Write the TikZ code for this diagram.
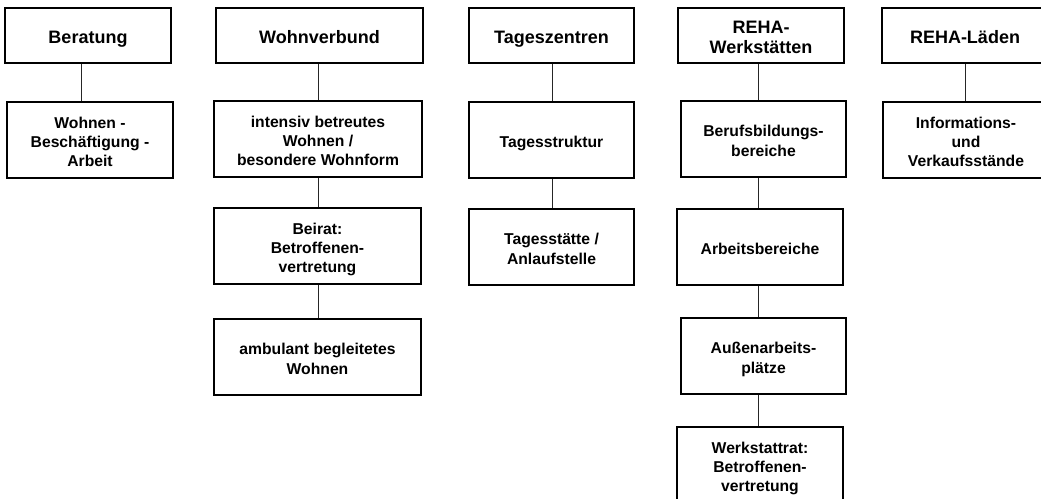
\documentclass[tikz,border=0pt]{standalone}
\usepackage{fontspec}
\setmainfont{Liberation Sans}
\newcommand{\mt}[1]{\raisebox{-3.5pt}[\height][\depth]{\begin{tabular}{@{}c@{}}#1\end{tabular}}}
\begin{document}
\begin{tikzpicture}[x=1pt,y=-1pt,
  box/.style={draw=black, line width=2pt, rectangle, inner sep=0pt, align=center},
  title/.style={box, minimum height=55pt, font=\fontsize{18}{20}\selectfont\bfseries},
  sub/.style={box, minimum height=76pt, font=\fontsize{15.7}{19.3}\selectfont\bfseries},
  conn/.style={draw=black!85, line width=1.3pt}]
\useasboundingbox (0,0) rectangle (1041,498);
\clip (0,0) rectangle (1041,498);
% column line positions
\coordinate (c1) at (81.5,0);
\coordinate (c2) at (318.5,0);
\coordinate (c3) at (552.5,0);
\coordinate (c4) at (758.5,0);
\coordinate (c5) at (965.5,0);
% column 1
\node[title, minimum width=166pt] (b1) at (88,35.5) {\mt{Beratung}};
\node[sub, minimum width=166pt] (b2) at (90,140) {\mt{Wohnen -\\Beschäftigung -\\Arbeit}};
% column 2
\node[title, minimum width=207pt] (w1) at (319.5,35.5) {\mt{Wohnverbund}};
\node[sub, minimum width=208pt] (w2) at (318,139) {\mt{intensiv betreutes\\Wohnen /\\besondere Wohnform}};
\node[sub, minimum width=207pt] (w3) at (317.5,246) {\mt{Beirat:\\Betroffenen-\\vertretung}};
\node[sub, minimum width=207pt] (w4) at (317.5,357) {\mt{ambulant begleitetes\\Wohnen}};
% column 3
\node[title, minimum width=165pt] (t1) at (551.5,35.5) {\mt{Tageszentren}};
\node[sub, minimum width=165pt] (t2) at (551.5,140) {\mt{Tagesstruktur}};
\node[sub, minimum width=165pt] (t3) at (551.5,247) {\mt{Tagesstätte /\\Anlaufstelle}};
% column 4
\node[title, minimum width=166pt] (r1) at (761,35.5) {\mt{REHA-\\Werkstätten}};
\node[sub, minimum width=165pt] (r2) at (763.5,139) {\mt{Berufsbildungs-\\bereiche}};
\node[sub, minimum width=166pt] (r3) at (760,247) {\mt{Arbeitsbereiche}};
\node[sub, minimum width=165pt] (r4) at (763.5,356) {\mt{Außenarbeits-\\plätze}};
\node[sub, minimum width=166pt] (r5) at (760,465) {\mt{Werkstattrat:\\Betroffenen-\\vertretung}};
% column 5
\node[title, minimum width=166pt] (l1) at (965,35.5) {\mt{REHA-Läden}};
\node[sub, minimum width=166pt] (l2) at (966,140) {\mt{Informations-\\und\\Verkaufsstände}};
% connectors
\draw[conn] (b1.south -| c1) -- (b2.north -| c1);
\draw[conn] (w1.south -| c2) -- (w2.north -| c2);
\draw[conn] (w2.south -| c2) -- (w3.north -| c2);
\draw[conn] (w3.south -| c2) -- (w4.north -| c2);
\draw[conn] (t1.south -| c3) -- (t2.north -| c3);
\draw[conn] (t2.south -| c3) -- (t3.north -| c3);
\draw[conn] (r1.south -| c4) -- (r2.north -| c4);
\draw[conn] (r2.south -| c4) -- (r3.north -| c4);
\draw[conn] (r3.south -| c4) -- (r4.north -| c4);
\draw[conn] (r4.south -| c4) -- (r5.north -| c4);
\draw[conn] (l1.south -| c5) -- (l2.north -| c5);
\end{tikzpicture}
\end{document}
